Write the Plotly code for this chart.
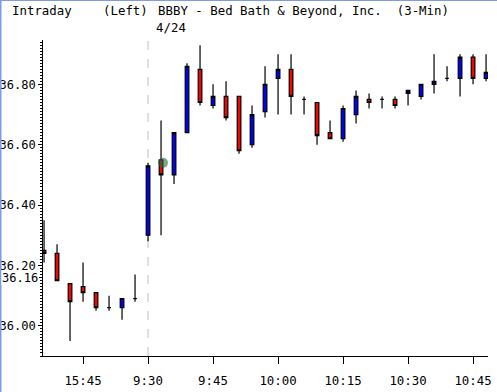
import plotly.graph_objects as go

# ---- data ----
prev_times = ["15:36", "15:39", "15:42", "15:45", "15:48", "15:51", "15:54", "15:57"]
prev_open  = [36.25, 36.24, 36.14, 36.13, 36.11, 36.06, 36.06, 36.09]
prev_high  = [36.35, 36.27, 36.14, 36.21, 36.11, 36.10, 36.09, 36.17]
prev_low   = [36.21, 36.15, 35.95, 36.08, 36.05, 36.05, 36.02, 36.08]
prev_close = [36.24, 36.15, 36.08, 36.11, 36.06, 36.06, 36.09, 36.09]

today_times = ["9:30", "9:33", "9:36", "9:39", "9:42", "9:45", "9:48", "9:51", "9:54",
               "9:57", "10:00", "10:03", "10:06", "10:09", "10:12", "10:15", "10:18",
               "10:21", "10:24", "10:27", "10:30", "10:33", "10:36", "10:39", "10:42",
               "10:45", "10:48"]
today_open  = [36.30, 36.55, 36.50, 36.64, 36.85, 36.73, 36.76, 36.76, 36.60,
               36.71, 36.82, 36.85, 36.75, 36.74, 36.64, 36.62, 36.70,
               36.75, 36.75, 36.75, 36.77, 36.76, 36.80, 36.82, 36.82,
               36.89, 36.82]
today_high  = [36.54, 36.68, 36.64, 36.87, 36.93, 36.80, 36.81, 36.76, 36.73,
               36.86, 36.90, 36.90, 36.76, 36.74, 36.68, 36.73, 36.78,
               36.77, 36.76, 36.76, 36.78, 36.80, 36.90, 36.86, 36.90,
               36.90, 36.90]
today_low   = [36.28, 36.30, 36.47, 36.64, 36.73, 36.72, 36.68, 36.57, 36.59,
               36.69, 36.70, 36.70, 36.70, 36.60, 36.62, 36.61, 36.67,
               36.72, 36.72, 36.72, 36.73, 36.75, 36.77, 36.81, 36.76,
               36.80, 36.81]
today_close = [36.53, 36.50, 36.64, 36.86, 36.74, 36.76, 36.69, 36.58, 36.70,
               36.80, 36.85, 36.76, 36.75, 36.63, 36.62, 36.72, 36.76,
               36.74, 36.75, 36.73, 36.78, 36.80, 36.81, 36.82, 36.89,
               36.82, 36.84]

times = prev_times + today_times
opens = prev_open + today_open
highs = prev_high + today_high
lows = prev_low + today_low
closes = prev_close + today_close
xs = list(range(len(times)))

x_tick_labels = ["15:45", "9:30", "9:45", "10:00", "10:15", "10:30", "10:45"]
y_tick_start = 36.00
y_tick_step = 0.20
y_minor_step = 0.01
y_extra_label = "36.16"
y_extra_value = 36.16
marker_time = "9:33"
marker_offset = 0.15
marker_price = 36.54

FONT = "DejaVu Sans Mono"
Y_RANGE = [35.90, 36.947]

x_tick_vals = [times.index(t) for t in x_tick_labels]
sep_x = times.index(today_times[0])

fig = go.Figure()
fig.add_trace(go.Candlestick(
    x=xs, open=opens, high=highs, low=lows, close=closes,
    increasing=dict(line=dict(color="black", width=1.2), fillcolor="#0000ff"),
    decreasing=dict(line=dict(color="black", width=1.2), fillcolor="#ff0000"),
    whiskerwidth=0, showlegend=False, hoverinfo="skip",
))
fig.add_trace(go.Scatter(
    x=[times.index(marker_time) + marker_offset], y=[marker_price], mode="markers",
    marker=dict(size=10, color="rgba(30,110,60,0.6)", line=dict(width=0)),
    showlegend=False, hoverinfo="skip",
))

# plot area in px: x 43..488, y 40..356
L, R, T, B = 43, 488, 40, 356
W, H = R - L, B - T
def px(x): return (x - L) / W
def py(y): return (B - y) / H

fig.add_shape(type="line", xref="x", yref="paper", x0=sep_x, x1=sep_x, y0=0, y1=1,
              line=dict(color="#c0c0c0", width=1, dash="dash"), layer="below")
fig.add_shape(type="line", xref="paper", yref="paper", x0=px(0.5), x1=px(0.5),
              y0=py(0), y1=py(392), line=dict(color="#7f9be6", width=2))
fig.add_shape(type="line", xref="paper", yref="paper", x0=px(0), x1=px(497),
              y0=py(0.5), y1=py(0.5), line=dict(color="#7f9be6", width=1))
# tick mark for the extra 36.16 label
fig.add_shape(type="line", xref="paper", yref="y", x0=px(39), x1=px(43),
              y0=y_extra_value, y1=y_extra_value, line=dict(color="black", width=1))

tf = dict(family=FONT, size=12.4, color="black")
yf = dict(family=FONT, size=12, color="black")
fig.add_annotation(text="Intraday", xref="paper", yref="paper", x=px(10), y=py(11),
                   xanchor="left", yanchor="middle", showarrow=False, font=tf)
fig.add_annotation(text="(Left)", xref="paper", yref="paper", x=px(101), y=py(11),
                   xanchor="left", yanchor="middle", showarrow=False, font=tf)
fig.add_annotation(text="BBBY - Bed Bath &amp; Beyond, Inc.  (3-Min)", xref="paper", yref="paper",
                   x=px(156), y=py(11), xanchor="left", yanchor="middle", showarrow=False, font=tf)
fig.add_annotation(text="4/24", xref="paper", yref="paper", x=px(154), y=py(27),
                   xanchor="left", yanchor="middle", showarrow=False, font=tf)
fig.add_annotation(text=y_extra_label, xref="paper", yref="y", x=px(39), y=y_extra_value,
                   xanchor="right", yanchor="middle", showarrow=False, font=yf,
                   bgcolor="white", borderpad=0)

fig.update_layout(
    width=497, height=392,
    margin=dict(l=L, r=497 - R, t=T, b=392 - B, autoexpand=False),
    paper_bgcolor="white", plot_bgcolor="white",
    boxgap=0.72, boxgroupgap=0,
    font=tf,
    xaxis=dict(type="linear", range=[-0.08, 34.15], rangeslider=dict(visible=False),
               automargin=False,
               showgrid=False, zeroline=False, showline=True, linecolor="black", linewidth=1,
               ticks="outside", ticklen=7, tickcolor="black", tickwidth=1,
               ticklabelstandoff=6,
               tickvals=x_tick_vals, ticktext=x_tick_labels, tickfont=tf),
    yaxis=dict(range=Y_RANGE, automargin=False,
               showgrid=False, zeroline=False, showline=True,
               linecolor="black", linewidth=1, ticks="outside", ticklen=4, tickcolor="black",
               tickmode="linear", tick0=y_tick_start, dtick=y_tick_step, tickformat=".2f",
               tickfont=yf,
               minor=dict(tickmode="linear", tick0=y_tick_start, dtick=y_minor_step,
                          ticks="outside", ticklen=2, tickwidth=1, tickcolor="black",
                          showgrid=False)),
)

fig.write_html("out.html", config={"displayModeBar": False},
               post_script="document.body.style.margin='0';document.body.style.overflow='hidden';")
